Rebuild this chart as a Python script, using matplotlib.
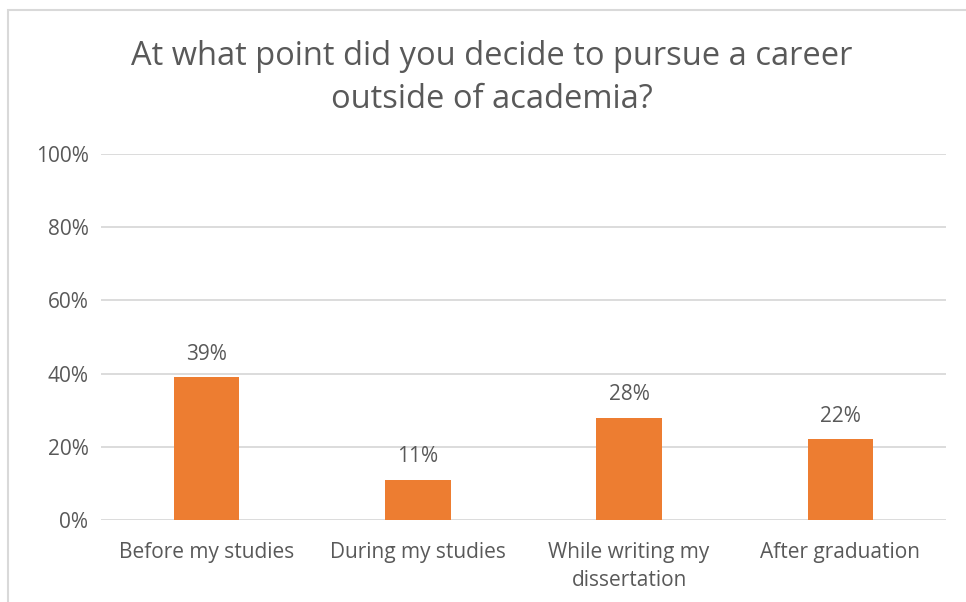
import matplotlib.pyplot as plt
from matplotlib.patches import Rectangle
from matplotlib.ticker import FuncFormatter

categories = ['Before my studies', 'During my studies',
              'While writing my\ndissertation', 'After graduation']
shares = [39, 11, 28, 22]
y_ticks = [0, 20, 40, 60, 80, 100]

bar_color = '#ED7D31'
text_color = '#595959'
grid_color = '#D9D9D9'

plt.rcParams['font.family'] = ['Open Sans', 'DejaVu Sans']

fig = plt.figure(figsize=(9.66, 6.02), dpi=100)
W, H = 966, 602

# light frame around the chart area (runs off the right and bottom edges)
fig.patches.append(Rectangle((8 / W, -0.1), 1.2, 1.1 - 10 / H, transform=fig.transFigure,
                             fill=False, edgecolor='#D9D9D9', linewidth=1.5))

ax = fig.add_axes([101 / W, 1 - 520 / H, 845 / W, 366 / H])
x = range(len(categories))
bars = ax.bar(x, shares, width=0.31, color=bar_color, zorder=3)
ax.set_xlim(-0.5, len(categories) - 0.5)
ax.set_ylim(0, 100)
ax.set_yticks(y_ticks)
ax.yaxis.set_major_formatter(FuncFormatter(lambda v, p: f'{v:.0f}%'))
ax.grid(axis='y', color=grid_color, linewidth=1.3, zorder=0)
for s in ax.spines.values():
    s.set_visible(False)
ax.tick_params(axis='both', length=0, labelsize=15, colors=text_color)
ax.tick_params(axis='y', pad=9)
ax.tick_params(axis='x', pad=16)
ax.set_xticks(list(x))
ax.set_xticklabels(categories, linespacing=1.45)

for b, v in zip(bars, shares):
    ax.annotate(f'{v}%', (b.get_x() + b.get_width() / 2, v), xytext=(0, 9),
                textcoords='offset points', ha='center', va='bottom',
                fontsize=15, color=text_color)

fig.text(492 / W, 1 - 78 / H, 'At what point did you decide to pursue a career\noutside of academia?',
         ha='center', va='center', fontsize=23.5, color=text_color, linespacing=1.4)

fig.savefig('out.png', dpi=100, facecolor='white')
